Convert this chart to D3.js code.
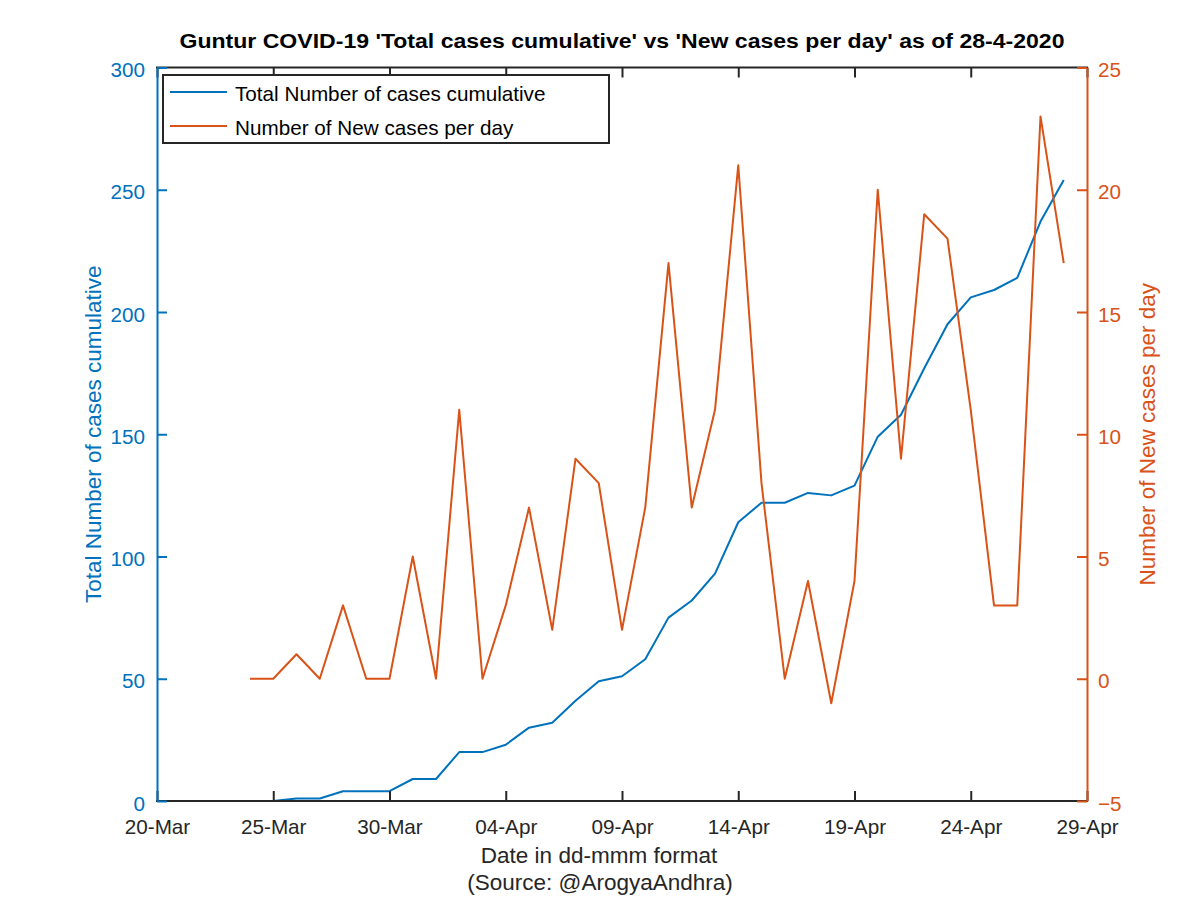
<!DOCTYPE html>
<html>
<head>
<meta charset="utf-8">
<script src="https://cdn.jsdelivr.net/npm/d3@7"></script>
<style>
  html, body { margin: 0; padding: 0; background: #fff; }
  svg { display: block; font-family: "Liberation Sans", Arial, Helvetica, sans-serif; }
</style>
</head>
<body>
<svg id="chart" width="1200" height="898"></svg>
<script>
// ---- data ----
const dates = ["2020-03-24","2020-03-25","2020-03-26","2020-03-27","2020-03-28","2020-03-29","2020-03-30","2020-03-31",
  "2020-04-01","2020-04-02","2020-04-03","2020-04-04","2020-04-05","2020-04-06","2020-04-07","2020-04-08",
  "2020-04-09","2020-04-10","2020-04-11","2020-04-12","2020-04-13","2020-04-14","2020-04-15","2020-04-16",
  "2020-04-17","2020-04-18","2020-04-19","2020-04-20","2020-04-21","2020-04-22","2020-04-23","2020-04-24",
  "2020-04-25","2020-04-26","2020-04-27","2020-04-28"];
const totalCases = [0,0,1,1,4,4,4,9, 9,20,20,23,30,32,41,49, 51,58,75,82,93,114,122,122, 126,125,129,149,158,177,195,206, 209,214,237,254];
const newCases = [0,0,1,0,3,0,0,5, 0,11,0,3,7,2,9,8, 2,7,17,7,11,21,8,0, 4,-1,4,20,9,19,18,11, 3,3,23,17];
const xTickDates = ["2020-03-20","2020-03-25","2020-03-30","2020-04-04","2020-04-09","2020-04-14","2020-04-19","2020-04-24","2020-04-29"];
const xDomain = ["2020-03-20","2020-04-29"];
const leftTicks = [0,50,100,150,200,250,300];
const rightTicks = [-5,0,5,10,15,20,25];
const seriesNames = ["Total Number of cases cumulative","Number of New cases per day"];
const titleText = "Guntur COVID-19 'Total cases cumulative' vs 'New cases per day' as of 28-4-2020";
const xLabel = "Date in dd-mmm format";
const xLabel2 = "(Source: @ArogyaAndhra)";
const yLabelLeft = "Total Number of cases cumulative";
const yLabelRight = "Number of New cases per day";

// ---- layout ----
const BLUE = "#0072BD", ORANGE = "#D95319", DARK = "#262626";
const L = 157, R = 1087, T = 67.5, B = 801;
const parse = d3.utcParse("%Y-%m-%d");
const svg = d3.select("#chart");

const x = d3.scaleUtc().domain(xDomain.map(parse)).range([L, R]);
const yL = d3.scaleLinear().domain([0, 300]).range([B, T]);
const yR = d3.scaleLinear().domain([-5, 25]).range([B, T]);

const tickFont = 20.7, labelFont = 22.5;

// lines
const pts = dates.map((d, i) => ({ date: parse(d), total: totalCases[i], nw: newCases[i] }));

svg.append("path").datum(pts)
  .attr("fill", "none").attr("stroke", BLUE).attr("stroke-width", 2).attr("stroke-linejoin", "round")
  .attr("d", d3.line().x(d => x(d.date)).y(d => yL(d.total)));
svg.append("path").datum(pts)
  .attr("fill", "none").attr("stroke", ORANGE).attr("stroke-width", 2).attr("stroke-linejoin", "round")
  .attr("d", d3.line().x(d => x(d.date)).y(d => yR(d.nw)));

// axes
const tv = xTickDates.map(parse);
const fmt = d3.utcFormat("%d-%b");
const xAxis = svg.append("g").attr("transform", `translate(0,${B})`)
  .call(d3.axisBottom(x).tickValues(tv).tickFormat(fmt).tickSizeInner(-10).tickSizeOuter(0).tickPadding(28.5));
const xTop = svg.append("g").attr("transform", `translate(0,${T})`)
  .call(d3.axisTop(x).tickValues(tv).tickFormat("").tickSizeInner(-10).tickSizeOuter(0));
[xAxis, xTop].forEach(g => {
  g.select(".domain").attr("stroke", DARK).attr("stroke-width", 2).attr("d", `M${L - 1},0H${R + 1}`);
  g.selectAll(".tick line").attr("stroke", DARK).attr("stroke-width", 2);
  g.selectAll(".tick text").attr("fill", DARK).style("font-size", tickFont + "px").attr("font-family", null);
});
xAxis.selectAll(".tick text").attr("dy", "0.2em");

const yAxisL = svg.append("g").attr("transform", `translate(${L},0)`)
  .call(d3.axisLeft(yL).tickValues(leftTicks).tickSizeInner(-10).tickSizeOuter(0).tickPadding(12));
yAxisL.select(".domain").attr("stroke", BLUE).attr("stroke-width", 2);
yAxisL.selectAll(".tick line").attr("stroke", BLUE).attr("stroke-width", 2);
yAxisL.selectAll(".tick text").attr("fill", BLUE).style("font-size", tickFont + "px").attr("font-family", null)
  .attr("dy", "0.44em");

const yAxisR = svg.append("g").attr("transform", `translate(${R},0)`)
  .call(d3.axisRight(yR).tickValues(rightTicks).tickSizeInner(-10).tickSizeOuter(0).tickPadding(11));
yAxisR.select(".domain").attr("stroke", ORANGE).attr("stroke-width", 2);
yAxisR.selectAll(".tick line").attr("stroke", ORANGE).attr("stroke-width", 2);
yAxisR.selectAll(".tick text").attr("fill", ORANGE).style("font-size", tickFont + "px").attr("font-family", null)
  .attr("dy", "0.44em");

// title
svg.append("text").attr("x", (L + R) / 2).attr("y", 48).attr("text-anchor", "middle")
  .attr("font-weight", "bold").style("font-size", "19.5px").attr("fill", "#000")
  .attr("textLength", 885).attr("lengthAdjust", "spacingAndGlyphs")
  .text(titleText);

// axis labels
svg.append("text").attr("x", 599).attr("y", 863).attr("text-anchor", "middle")
  .style("font-size", labelFont + "px").attr("fill", DARK).text(xLabel);
svg.append("text").attr("x", 600).attr("y", 890).attr("text-anchor", "middle")
  .style("font-size", labelFont + "px").attr("fill", DARK).text(xLabel2);
svg.append("text").attr("transform", `translate(101,${(T + B) / 2}) rotate(-90)`).attr("text-anchor", "middle")
  .style("font-size", labelFont + "px").attr("fill", BLUE).text(yLabelLeft);
svg.append("text").attr("transform", `translate(1155,${(T + B) / 2}) rotate(-90)`).attr("text-anchor", "middle")
  .style("font-size", labelFont + "px").attr("fill", ORANGE).text(yLabelRight);

// legend
const lg = svg.append("g");
lg.append("rect").attr("x", 163).attr("y", 75).attr("width", 446).attr("height", 68)
  .attr("fill", "#fff").attr("stroke", DARK).attr("stroke-width", 2);
[BLUE, ORANGE].forEach((c, i) => {
  const yy = 92 + i * 34;
  lg.append("line").attr("x1", 170).attr("x2", 227).attr("y1", yy).attr("y2", yy)
    .attr("stroke", c).attr("stroke-width", 2);
  lg.append("text").attr("x", 235).attr("y", yy).attr("dy", "0.42em")
    .style("font-size", tickFont + "px").attr("fill", "#000").text(seriesNames[i]);
});
</script>
</body>
</html>
